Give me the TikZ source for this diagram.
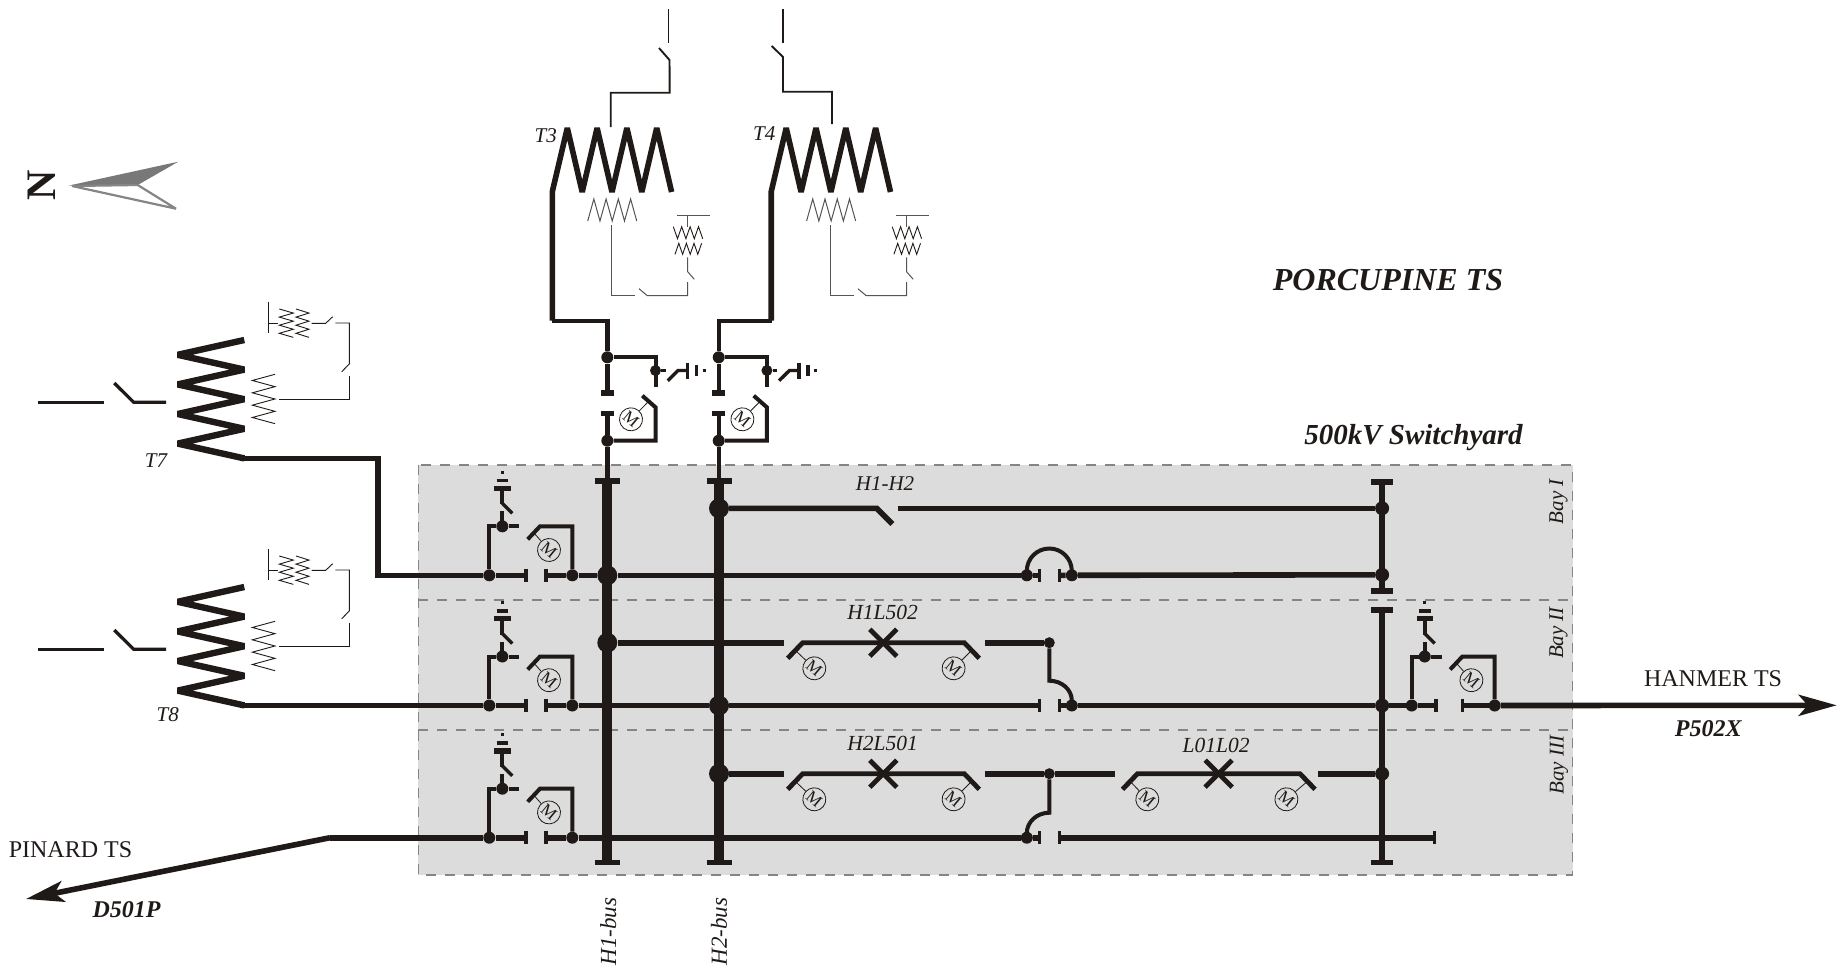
\documentclass[tikz,border=0pt]{standalone}
\usepackage{fontspec}
\setmainfont{Liberation Serif}
\usetikzlibrary{arrows.meta}
\definecolor{ink}{HTML}{1F1A17}
\definecolor{bayfill}{HTML}{DCDCDC}
\definecolor{baydash}{HTML}{858585}
\tikzset{
    row/.style={draw=ink,line width=5.6pt},
    branch/.style={draw=ink,line width=4pt,line join=miter},
    coil/.style={draw=ink,line width=5.6pt,line join=bevel},
    tail/.style={draw=ink,line width=5.6pt},
    feed/.style={draw=ink,line width=3.3pt},
    fine/.style={draw=ink,line width=1.9pt},
    aux/.style={draw=ink!75,line width=1pt},
    auxd/.style={draw=ink,line width=.9pt},
    stem/.style={draw=ink,line width=.8pt},
    bus/.style={draw=ink,line width=9.7pt},
    bus3/.style={draw=ink,line width=6pt},
    joint/.style={circle,fill=ink,inner sep=0pt,minimum size=#1},
    motor/.style={circle,draw=ink,line width=.8pt,inner sep=0pt,minimum size=23pt,rotate=-40,text=ink,font=\fontsize{17}{17}\selectfont},
    lab/.style={text=ink,inner sep=0pt,font=\fontsize{#1}{#1}\selectfont\itshape},
    labb/.style={text=ink,inner sep=0pt,font=\fontsize{#1}{#1}\selectfont\itshape\bfseries},
    labr/.style={text=ink,inner sep=0pt,font=\fontsize{#1}{#1}\selectfont},
    baydiv/.style={draw=baydash,line width=1.5pt,dash pattern=on 10pt off 9pt}
}
\newcommand{\capbar}[3]{\draw[draw=ink,line width=5.6pt] ({#1-#3},#2) -- ({#1+#3},#2);}
\newcommand{\plate}[2]{\draw[draw=ink,line width=3.6pt] (#1,{#2-6.7}) -- (#1,{#2+6.7});}
\newcommand{\zigh}[7]{\draw[#1] (#2,#3) \foreach \k in {1,...,#6} { -- ({#2+\k*#4},{#3+mod(\k+#7,2)*#5}) };}
\newcommand{\zigv}[6]{\draw[#1] (#2,#3) \foreach \k in {1,...,#6} { -- ({#2+mod(\k,2)*#5},{#3+\k*#4}) };}
\newcommand{\earthstack}[2]{
    \draw[branch] (#1,#2) -- (#1,{#2-15});
    \draw[branch] (#1,{#2-38}) -- (#1,{#2-22});
    \draw[branch,line width=3.4pt] ({#1+10},{#2-13}) -- (#1,{#2-23});
    \capbar{#1}{#2-38}{8.2}
    \draw[draw=ink,line width=3.4pt] ({#1-5.8},{#2-45.6}) -- ({#1+5.8},{#2-45.6});
    \draw[draw=ink,line width=3.4pt] (#1,{#2-55.6}) -- (#1,{#2-52.4});
}
\newcommand{\feedergear}[5]{
    \begin{scope}[shift={(#2,#3)}]
        \node[joint=12pt] (#1in) at (489.3,575.3) {};
        \node[joint=12pt] (#1out) at (572.3,575.3) {};
        \node[joint=12pt] (#1top) at (502.3,526.3) {};
        \coordinate (#1pl) at (#4,575.3);
        \coordinate (#1pr) at (#5,575.3);
        \coordinate (#1open) at (519.3,526.3);
        \coordinate (#1hinge) at (534,533);
        \node[motor] (#1m) at (549,550) {M};
        \plate{#4}{575.3}
        \plate{#5}{575.3}
        \draw[branch] (#1in) |- (#1top) -- (#1open);
        \draw[branch] (#1out) -- (572.3,526.3) -- (540,526.3) -- (527.7,539.3);
        \draw[stem] (#1m) -- (#1hinge);
        \earthstack{502.3}{526.3}
    \end{scope}
}
\newcommand{\stationgear}[3]{
    \begin{scope}[shift={(#2,0)}]
        \node[joint=12pt] (#1a) at (607.3,357.3) {};
        \node[joint=11pt] (#1b) at (655.5,370.5) {};
        \node[joint=12pt] (#1c) at (607.3,440.7) {};
        \node[motor] (#1m) at (631,419.3) {M};
        \coordinate (#1hinge) at (648,402);
        \draw[tail,line width=4.4pt] (#3,320.7) -- (607.3,320.7) -- (#1a) -- (607.3,393);
        \draw[tail,line width=4.4pt] (607.3,413.3) -- (#1c) -- (607.3,481);
        \capbar{607.3}{393}{6.5}
        \capbar{607.3}{413.3}{6.5}
        \draw[branch] (#1a) -| (655.5,386.7);
        \draw[branch] (#1c) -| (655.5,407.3) -- (642.3,395.7);
        \draw[stem] (#1m) -- (#1hinge);
        \draw[branch,line width=3.4pt] (667.7,380.7) -- (678,370.5) -- (687.7,370.5);
        \draw[branch,line width=3.4pt] (#1b) -- (666,370.5);
        \draw[draw=ink,line width=3.4pt] (687.7,362.7) -- (687.7,378.7);
        \draw[draw=ink,line width=3.4pt] (696.7,365) -- (696.7,376);
        \draw[draw=ink,line width=3.4pt] (702.8,370.5) -- (706,370.5);
    \end{scope}
}
\newcommand{\uppertrans}[3]{
    \begin{scope}[shift={(#2,0)}]
        \draw[coil] (552.3,#3) -- (552.3,191.7) -- (567.3,128) \foreach \k in {1,...,7} { -- ({567.3+\k*14.9},{128+mod(\k,2)*64}) };
        \zigh{aux}{587.7}{221}{6.13}{-22}{8}{0}
        \draw[aux] (611.7,225.3) -- (611.7,295.7) -- (635,295.7);
        \draw[aux] (639,288.7) -- (647.3,295.7) -- (687.7,295.7) -- (687.7,282);
        \draw[aux] (694.3,279.3) -- (687.7,271.7) -- (687.7,257.3);
        \draw[aux] (677.3,215) -- (709.7,215);
        \draw[aux] (687.7,215) -- (687.7,226.7);
        \zigh{auxd}{673.3}{226.7}{4.2}{12}{7}{0}
        \zigh{auxd}{675}{254.3}{3.8}{-11}{7}{0}
    \end{scope}
}
\newcommand{\sidetrans}[2]{
    \begin{scope}[shift={(0,#2)}]
        \draw[feed] (37.7,402.3) -- (104,402.3);
        \draw[feed] (114.3,383) -- (133.7,402.3) -- (166,402.3);
        \draw[coil,line width=6.4pt] (244.3,340) \foreach \k in {1,...,8} { -- ({244.3-mod(\k,2)*66.6},{340+\k*14.8}) };
        \zigv{auxd}{275}{374.3}{6.17}{-22.7}{8}
        \draw[auxd] (279,399) -- (349.3,399) -- (349.3,376);
        \draw[auxd] (341.7,371.7) -- (349.3,364) -- (349.3,323) -- (335.3,323);
        \draw[auxd] (332.7,316.7) -- (325.7,323.3) -- (311.7,323.3);
        \draw[auxd] (268.7,301.7) -- (268.7,333.3);
        \draw[auxd] (268.7,323) -- (278.3,323);
        \zigv{auxd}{279.3}{309}{4.05}{14}{7}
        \zigv{auxd}{296}{309}{4.05}{13}{7}
    \end{scope}
}
\newcommand{\linebreaker}[7]{
    \node[motor] (#1l) at (#6,{#5+25.6}) {M};
    \node[motor] (#1r) at (#7,{#5+25.6}) {M};
    \coordinate (#1lh) at ({#2+8},{#5+8});
    \coordinate (#1rh) at ({#3-8},{#5+8});
    \draw[row,line width=4.8pt] (#2,{#5+15.6}) -- ({#2+15},#5) -- ({#3-15},#5) -- (#3,{#5+15.6});
    \draw[row,line width=4.8pt] ({#4-13.5},{#5-13.5}) -- ({#4+13.5},{#5+13.5});
    \draw[row,line width=4.8pt] ({#4-13.5},{#5+13.5}) -- ({#4+13.5},{#5-13.5});
    \draw[stem] (#1l) -- (#1lh);
    \draw[stem] (#1r) -- (#1rh);
}
\begin{document}
\begin{tikzpicture}[x=1pt,y=-1pt]
        \useasboundingbox (0,0) rectangle (1843,972);
        \fill[bayfill] (418.3,465) rectangle (1572.7,875);
        \draw[baydiv] (418.3,465) rectangle (1572.7,875);
        \draw[baydiv] (418.3,600) -- (1572.7,600);
        \draw[baydiv] (418.3,730) -- (1572.7,730);

        \fill[baydash!90!black] (68.3,185.7) -- (178.3,161.7) -- (137.7,185) -- cycle;
        \draw[baydash,fill=white,line width=2.2pt,line join=bevel] (72,186) -- (137.7,185) -- (176,208.7) -- cycle;
        \node[text=ink,inner sep=0pt,rotate=90,font=\fontsize{42}{42}\selectfont\bfseries] (north) at (42,185) {N};

        \node[lab=21] (t3) at (545.7,136) {T3};
        \node[lab=21] (t4) at (764.3,133.3) {T4};
        \node[lab=21] (t7) at (156,460.7) {T7};
        \node[lab=21] (t8) at (167.7,715) {T8};
        \node[labb=32] (porcupine) at (1388,280) {PORCUPINE TS};
        \node[labb=29] (yard) at (1413.5,438) {500kV Switchyard};
        \node[lab=21] (tieb) at (885,484) {H1-H2};
        \node[lab=21.5] (h1l) at (882.7,612) {H1L502};
        \node[lab=21.5] (h2l) at (882.7,743) {H2L501};
        \node[lab=21.5] (lol) at (1216.1,745) {L01L02};
        \node[lab=21,rotate=90] (baya) at (1558.5,501.7) {Bay I};
        \node[lab=21,rotate=90] (bayb) at (1558.5,633) {Bay II};
        \node[lab=21,rotate=90] (bayc) at (1559,765) {Bay III};
        \node[lab=23,rotate=90] (h1name) at (608.3,931.7) {H1-bus};
        \node[lab=23,rotate=90] (h2name) at (719,931.7) {H2-bus};
        \node[labr=24] (hanmer) at (1713,678.3) {HANMER TS};
        \node[labb=24] (p502) at (1708.3,729) {P502X};
        \node[labr=24] (pinard) at (70.5,850) {PINARD TS};
        \node[labb=24] (d501) at (126.5,910) {D501P};

        \node[joint=20pt] (h1a) at (607.3,575.3) {};
        \node[joint=20pt] (h1b) at (607.3,642.7) {};
        \node[joint=20pt] (h2a) at (719,508.3) {};
        \node[joint=20pt] (h2b) at (719,705.5) {};
        \node[joint=20pt] (h2c) at (719,773.7) {};
        \node[joint=14pt] (r1) at (1382.1,508.3) {};
        \node[joint=14pt] (r2) at (1382.1,574.8) {};
        \node[joint=14pt] (r3) at (1382.1,705.5) {};
        \node[joint=14pt] (r4) at (1382.1,773.7) {};
        \node[joint=12pt] (ta) at (1026.8,575.3) {};
        \node[joint=12pt] (tb) at (1071.8,575.3) {};
        \node[joint=12pt] (tc) at (1071.8,705.5) {};
        \node[joint=12pt] (td) at (1026.8,837.7) {};
        \node[joint=11pt] (te) at (1049.3,642.7) {};
        \node[joint=11pt] (tf) at (1049.3,773.7) {};
        \coordinate (h1top) at (607.3,481);
        \coordinate (h1bot) at (607.3,862.3);
        \coordinate (h2top) at (719,481);
        \coordinate (h2bot) at (719,862.3);
        \coordinate (r1top) at (1382.1,481.7);
        \coordinate (r1bot) at (1382.1,591);
        \coordinate (r2top) at (1382.1,610);
        \coordinate (r2bot) at (1382.1,862.3);
        \coordinate (hanmerend) at (1836.7,705.3);
        \coordinate (pinardend) at (26,899);
        \coordinate (pinardbend) at (330,837.7);

        \draw[bus] (h1top) -- (h1bot);
        \draw[bus] (h2top) -- (h2bot);
        \draw[bus3] (r1top) -- (r1bot);
        \draw[bus3] (r2top) -- (r2bot);
        \capbar{607.3}{481}{12.5}
        \capbar{607.3}{862.3}{12.5}
        \capbar{719}{481}{12.5}
        \capbar{719}{862.3}{12.5}
        \capbar{1382.1}{481.7}{10.7}
        \capbar{1382.1}{591}{10.7}
        \capbar{1382.1}{610}{10.7}
        \capbar{1382.1}{862.3}{10.7}

        \feedergear{fa}{0}{0}{525.7}{545.7}
        \feedergear{fb}{0}{130.2}{525.7}{545.7}
        \feedergear{fc}{0}{262.4}{525.7}{545.7}
        \feedergear{fd}{922.4}{130.2}{513.6}{539.9}
        \stationgear{sa}{0}{552.3}
        \stationgear{sb}{111.4}{660.3}
        \uppertrans{ta}{0}{320.7}
        \uppertrans{tb}{218.9}{320.7}
        \sidetrans{sa}{0}
        \sidetrans{sb}{247}

        \draw[fine] (668.5,9) -- (668.5,43);
        \draw[fine] (659,48) -- (669.5,60) -- (669.7,92.7) -- (610.7,92.7) -- (610.7,127);
        \draw[fine] (783,9) -- (783,43);
        \draw[fine] (771.7,46) -- (783,57) -- (783,91.7) -- (832,91.7) -- (832,124);

        \draw[tail] (244.3,458.3) -- (377.7,458.3) -- (377.7,575.3) -- (fain);
        \draw[tail] (244.3,705.5) -- (fbin);
        \draw[row] (fain) -- (fapl);
        \draw[row] (faout) -- (fapr);
        \draw[row] (faout) -- (h1a) -- (ta) -- (1039.3,575.3);
        \draw[row] (1059.6,575.3) -- (tb) -- (r2);
        \plate{1039.3}{575.3}
        \plate{1059.6}{575.3}
        \draw[branch] (1026.8,571) arc (180:360:22.5);
        \draw[row] (fbin) -- (fbpl);
        \draw[row] (fbout) -- (fbpr);
        \draw[row] (fbout) -- (h2b) -- (1039.3,705.5);
        \draw[row] (1059.6,705.5) -- (tc) -- (r3) -- (fdin) -- (fdpl);
        \plate{1039.3}{705.5}
        \plate{1059.6}{705.5}
        \draw[row] (fdpr) -- (fdout);
        \draw[row,-{Stealth[length=38pt,width=21pt,inset=9pt]}] (fdout) -- (hanmerend);
        \draw[branch] (te) -- (1049.3,680.7) arc [start angle=-90,end angle=0,x radius=22.5,y radius=19.8];
        \draw[row] (fcin) -- (fcpl);
        \draw[row] (fcout) -- (fcpr);
        \draw[row] (fcout) -- (td) -- (1039.3,837.7);
        \draw[row] (1059.6,837.7) -- (1434.6,837.7);
        \plate{1039.3}{837.7}
        \plate{1059.6}{837.7}
        \plate{1434.6}{837.7}
        \draw[branch] (tf) -- (1049.3,812.7) arc [start angle=-90,end angle=-180,x radius=22.5,y radius=20.5];
        \draw[row] (fcin) -- (pinardbend);
        \draw[row,-{Stealth[length=38pt,width=21pt,inset=9pt]}] (pinardbend) -- (pinardend);

        \draw[row] (h2a) -- (876.7,508.3) -- (892.3,524);
        \draw[row] (897.7,508.3) -- (r1);
        \draw[row] (h1b) -- (784,642.7);
        \draw[row] (h2c) -- (784,773.7);
        \draw[row] (985,642.7) -- (te);
        \draw[row] (985,773.7) -- (tf) -- (1115.4,773.7);
        \draw[row] (1317.9,773.7) -- (r4);
        \linebreaker{ba}{787.7}{979.3}{883.3}{642.7}{814.3}{953.6}
        \linebreaker{bb}{787.7}{979.3}{883.3}{773.7}{814.3}{953.6}
        \linebreaker{bc}{1122.5}{1315}{1218.6}{773.7}{1147.3}{1286.4}
\end{tikzpicture}
\end{document}
